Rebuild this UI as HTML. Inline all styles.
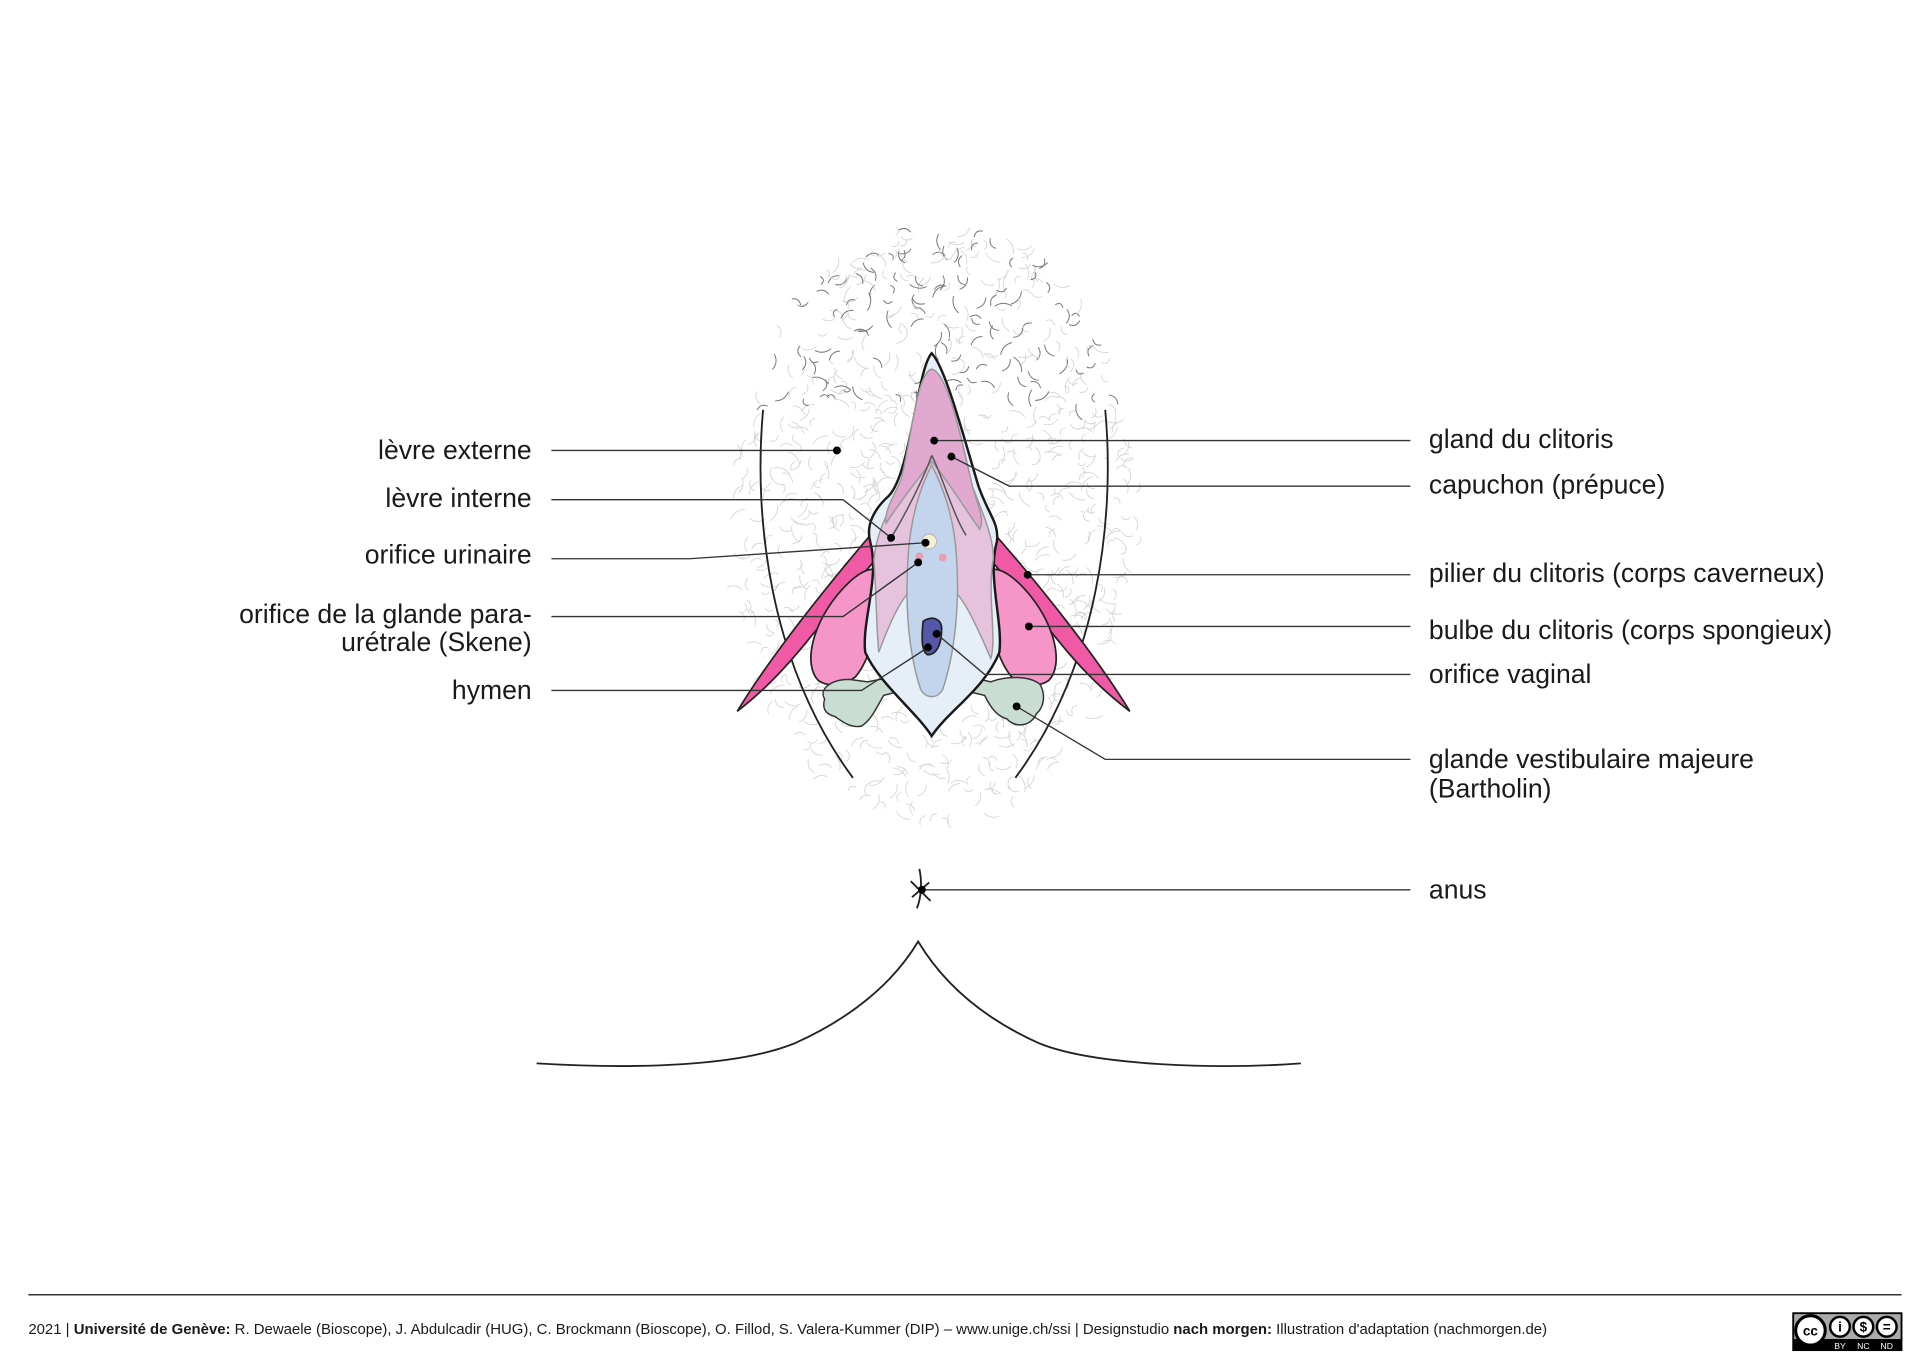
<!DOCTYPE html>
<html><head><meta charset="utf-8"><style>
html,body{margin:0;padding:0;background:#fff;}
svg{display:block}
text{font-family:"Liberation Sans",sans-serif;fill:#1a1a1a}
</style></head><body>
<svg id="s" width="1920" height="1358" viewBox="0 0 1560 1103.4" xmlns="http://www.w3.org/2000/svg">
<g id="hair" fill="none" stroke-linecap="round"></g>
<g fill="none" stroke="#222" stroke-width="1.5">
<path d="M620,333 C612,420 625,540 693,632"/>
<path d="M898,333 C906,420 893,540 825,632"/>
<path d="M436,864 C520,869 600,866 645,848 C690,828 725,800 746,765 C767,800 800,828 845,848 C890,866 990,869 1057,864"/>
<path d="M747,706 C749,715 749,728 745,738 M740,716 L756,732 M741,729 L755,717"/>
</g>
<path d="M599,578 C625,535 670,478 713,428 L723,442 C695,472 665,510 650,528 C630,552 612,568 599,578Z" fill="#f05aa5" stroke="#222" stroke-width="1.4"/>
<path d="M918,578 C892,535 847,478 803,428 L793,442 C821,472 851,510 866,528 C886,552 905,568 918,578Z" fill="#f05aa5" stroke="#222" stroke-width="1.4"/>
<path d="M665,553 C652,540 660,505 685,478 C700,462 712,458 718,468 C716,500 708,535 695,550 C685,558 672,558 665,553Z" fill="#f595c8" stroke="#222" stroke-width="1.4"/>
<path d="M852,553 C865,540 857,505 832,478 C817,462 805,458 799,468 C801,500 809,535 822,550 C832,558 845,558 852,553Z" fill="#f595c8" stroke="#222" stroke-width="1.4"/>
<path d="M670,568 C665,560 675,552 690,552 L705,554 L745,546 L770,546 L805,554 C815,550 835,548 845,556 C850,565 848,575 842,580 C838,590 825,592 818,584 C810,582 805,575 800,565 L770,558 L745,558 L718,565 C712,575 708,585 700,590 C690,592 683,585 678,582 C670,580 668,575 670,568Z" fill="#c9ddd3" stroke="#333" stroke-width="1.2"/>
<path d="M757,287 C768,298 783,355 795,395 C803,418 812,425 810,440 C802,468 815,505 812,530 C800,560 770,578 757,598 C744,578 714,555 703,530 C700,505 715,470 707,440 C703,425 712,412 722,403 C740,385 745,300 757,287Z" fill="#e6eef7" stroke="#1a1a1a" stroke-width="2"/>
<path d="M757,300 C770,302 782,360 790,395 C800,420 808,440 807,455 C802,480 810,520 805,535 C790,500 780,480 765,470 L750,470 C735,480 725,500 714,530 C712,510 712,480 710,455 C712,430 725,410 732,395 C740,360 745,302 757,300Z" fill="#e6c3dc" stroke="#999" stroke-width="1.2"/>
<path d="M757,300 C770,302 782,360 790,395 C795,412 800,422 796,430 C785,415 770,390 757,375 C745,390 730,410 720,425 C718,415 728,400 732,390 C740,360 745,302 757,300Z" fill="#e2a9d0" stroke="#999" stroke-width="1.2"/>
<path d="M757,378 C748,395 740,420 738,450 C735,490 738,530 748,560 C752,568 762,568 766,560 C776,530 780,490 777,450 C775,420 766,395 757,378Z" fill="#c3d5ec" stroke="#999" stroke-width="1.2"/>
<path d="M757,370 C752,385 735,420 722,440 M757,370 C765,385 775,420 785,435" fill="none" stroke="#555" stroke-width="1.2"/>
<circle cx="755" cy="440" r="6" fill="#f3f0d6" stroke="#bbb"/>
<circle cx="747" cy="452" r="3.2" fill="#e3a0b4"/><circle cx="766" cy="453" r="3.2" fill="#e3a0b4"/>
<path d="M750,505 C756,500 766,502 765,512 C765,525 760,532 754,532 C748,530 749,515 750,505Z" fill="#5558a8" stroke="#222" stroke-width="1.4"/>
<g fill="none" stroke="#333" stroke-width="1.1">
<path d="M448,366 L680,366"/>
<path d="M448,406 L685,406 L724,437"/>
<path d="M448,454 L560,454 L752,441"/>
<path d="M448,501 L685,501 L746,457"/>
<path d="M448,561 L700,561 L754,526"/>
<path d="M1146,358 L759,358"/>
<path d="M1146,395 L820,395 L773,371"/>
<path d="M1146,467 L835,467"/>
<path d="M1146,509 L836,509"/>
<path d="M1146,548 L800,548 L761,515"/>
<path d="M1146,617 L898,617 L826,574"/>
<path d="M1146,723 L749,723"/>
</g>
<g fill="#000">
<circle cx="680" cy="366" r="3.2"/><circle cx="724" cy="437" r="3.2"/><circle cx="752" cy="441" r="3.2"/><circle cx="746" cy="457" r="3.2"/><circle cx="754" cy="526" r="3.2"/><circle cx="759" cy="358" r="3.2"/><circle cx="773" cy="371" r="3.2"/><circle cx="835" cy="467" r="3.2"/><circle cx="836" cy="509" r="3.2"/><circle cx="761" cy="515" r="3.2"/><circle cx="826" cy="574" r="3.2"/><circle cx="749" cy="723" r="3.2"/>
</g>
<g font-size="21.6" text-anchor="end">
<text x="432" y="373">lèvre externe</text>
<text x="432" y="412">lèvre interne</text>
<text x="432" y="458">orifice urinaire</text>
<text x="432" y="506">orifice de la glande para-</text>
<text x="432" y="529">urétrale (Skene)</text>
<text x="432" y="568">hymen</text>
</g>
<g font-size="21.6">
<text x="1161" y="364">gland du clitoris</text>
<text x="1161" y="401">capuchon (prépuce)</text>
<text x="1161" y="473">pilier du clitoris (corps caverneux)</text>
<text x="1161" y="519">bulbe du clitoris (corps spongieux)</text>
<text x="1161" y="555">orifice vaginal</text>
<text x="1161" y="624">glande vestibulaire majeure</text>
<text x="1161" y="648">(Bartholin)</text>
<text x="1161" y="730">anus</text>
</g>
<line x1="23" y1="1052" x2="1545" y2="1052" stroke="#333" stroke-width="1.3"/>
<text x="23" y="1084" font-size="12" textLength="1234" lengthAdjust="spacingAndGlyphs">2021 | <tspan font-weight="bold">Université de Genève:</tspan> R. Dewaele (Bioscope), J. Abdulcadir (HUG), C. Brockmann (Bioscope), O. Fillod, S. Valera-Kummer (DIP) – www.unige.ch/ssi | Designstudio <tspan font-weight="bold">nach morgen:</tspan> Illustration d'adaptation (nachmorgen.de)</text>
<g transform="translate(1457,1067)">
<rect width="88" height="30" fill="#aaa" stroke="#000" stroke-width="1.5"/>
<rect x="0" y="21" width="88" height="9" fill="#000"/>
<circle cx="14" cy="14" r="12" fill="#fff" stroke="#000" stroke-width="2.5"/>
<text x="14" y="18" font-size="11" font-weight="bold" text-anchor="middle" style="fill:#000">cc</text>
<circle cx="38" cy="11" r="8" fill="#fff" stroke="#000" stroke-width="2"/>
<circle cx="57" cy="11" r="8" fill="#fff" stroke="#000" stroke-width="2"/>
<circle cx="76" cy="11" r="8" fill="#fff" stroke="#000" stroke-width="2"/>
<text x="38" y="15" font-size="11" font-weight="bold" text-anchor="middle" style="fill:#000">i</text>
<text x="57" y="15" font-size="11" font-weight="bold" text-anchor="middle" style="fill:#000">$</text>
<text x="76" y="15" font-size="11" font-weight="bold" text-anchor="middle" style="fill:#000">=</text>
<text x="38" y="29" font-size="7" text-anchor="middle" style="fill:#fff">BY</text>
<text x="57" y="29" font-size="7" text-anchor="middle" style="fill:#fff">NC</text>
<text x="76" y="29" font-size="7" text-anchor="middle" style="fill:#fff">ND</text>
</g>
</svg>
<script>
(function(){
var g=document.getElementById('hair'),s=12345;
function r(){s=(s*16807)%2147483647;return s/2147483647;}
var out='';
for(var i=0;i<1400;i++){
 var x=590+r()*340,y=175+r()*500;
 var cx=760,cy=430,dx=(x-cx)/165,dy=(y-cy)/(y<430?250:240);
 if(dx*dx+dy*dy>1)continue;
 var a=r()*6.28,l=6+r()*8,dark=(y<330&&r()<0.45);
 var x2=x+Math.cos(a)*l,y2=y+Math.sin(a)*l,mx=(x+x2)/2+Math.cos(a+1.57)*4,my=(y+y2)/2+Math.sin(a+1.57)*4;
 out+='<path d="M'+x.toFixed(1)+','+y.toFixed(1)+' Q'+mx.toFixed(1)+','+my.toFixed(1)+' '+x2.toFixed(1)+','+y2.toFixed(1)+'" stroke="'+(dark?'#777':'#d4d4d4')+'" stroke-width="'+(dark?0.8:0.7)+'"/>';
}
g.innerHTML=out;
})();
</script>
</body></html>
